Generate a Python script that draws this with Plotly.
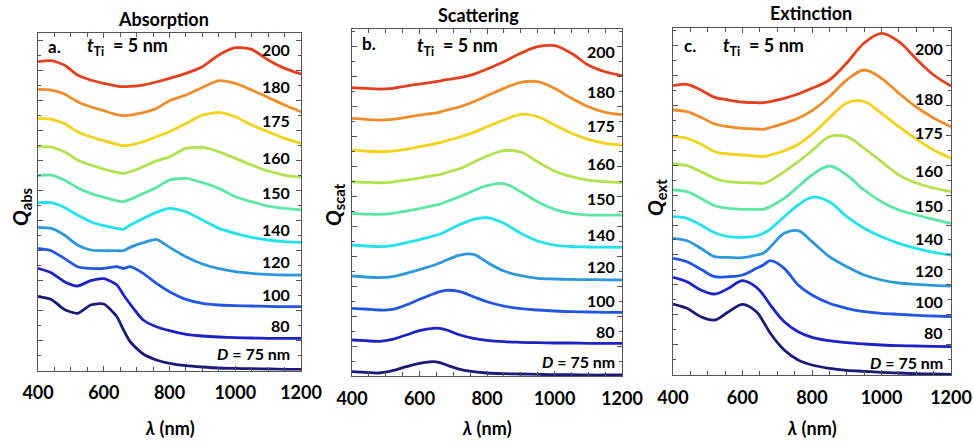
import plotly.graph_objects as go

# Wavelength grid (nm) shared by all spectra
WL = [400, 440, 480, 520, 560, 600, 640, 660, 680, 720, 760, 800, 850, 900, 950, 1000, 1050, 1100, 1150, 1200]

# Particle diameters D (nm), bottom to top
DIAMETERS = [75, 80, 100, 120, 140, 150, 160, 175, 180, 200]
LINE_COLORS = ["#1c1a78", "#1d22c4", "#2256e4", "#2d98dc", "#22e2ee",
               "#5ee6a4", "#b2e24c", "#f3d21a", "#f08c2a", "#e4401e"]

# Absorption efficiency, vertically offset per diameter (a.u.)
ABS_75 = [74, 71.3, 61.3, 57.3, 65.7, 66.7, 54, 40.7, 29, 16.7, 10.7, 7.3, 5, 3.7, 2.7, 2.3, 2, 1.7, 1.3, 1.3]
ABS_80 = [102.3, 98, 89, 84.7, 90, 92, 85.7, 75.7, 66.7, 50.7, 44, 40, 36.3, 34.7, 33.7, 33, 32.7, 32.3, 32.3, 32.3]
ABS_100 = [122.3, 120, 112.3, 104, 102.3, 102.3, 104, 102.3, 104, 97.3, 87.3, 79, 71.3, 67.3, 65.7, 65, 64.7, 64.3, 64, 64]
ABS_120 = [143.3, 142.3, 135.7, 125.7, 120.7, 120, 120, 120, 123.3, 128, 131.3, 123.3, 114, 106.7, 102, 99, 97.3, 96.3, 95.7, 95.7]
ABS_140 = [168, 168, 163.3, 155.7, 149, 145, 142.3, 141.3, 145.7, 152.3, 158.3, 162.3, 159, 150.7, 142.3, 137.3, 133.3, 130.7, 129, 128.3]
ABS_150 = [195, 195.7, 190.7, 183, 177.3, 173.3, 170, 169, 171.3, 177.3, 183.3, 190.7, 192.3, 188, 182.3, 174, 169, 164.7, 162.3, 160.7]
ABS_160 = [224, 223.7, 219, 210.7, 205.7, 201.7, 198.3, 197.3, 199, 204, 209.7, 214, 222.3, 223.3, 219, 212.3, 205.7, 199.7, 195.7, 193.3]
ABS_175 = [252.3, 251.3, 247.3, 239, 234, 230, 226.3, 225, 225.7, 229, 234, 239, 247.3, 255.7, 258.3, 254, 245.7, 239, 232.3, 227.3]
ABS_180 = [281.3, 280.7, 276.7, 269, 264, 260, 256, 255, 255.7, 258, 262.3, 270, 275.7, 283.3, 290, 287.3, 280.7, 273.3, 265.7, 259]
ABS_200 = [309, 310, 305.7, 295.7, 290.7, 287.3, 284.7, 284, 284.3, 285.7, 288.7, 292.3, 297.3, 304, 315.7, 323, 321.3, 310.7, 302.3, 296.7]

# Scattering efficiency, vertically offset per diameter (a.u.)
SCAT_75 = [4.3, 3.7, 3, 5.3, 9.3, 12.7, 14.3, 13.3, 11, 6.7, 4.3, 3, 2.3, 2, 1.7, 1.3, 1.3, 1, 1, 1]
SCAT_80 = [36, 35.3, 34.7, 36.7, 41, 45.3, 47.7, 47.7, 46, 41, 37.7, 35.7, 34.3, 33.7, 33.3, 33, 33, 32.7, 32.7, 32.7]
SCAT_100 = [67.7, 67, 66, 66.7, 71, 76.7, 82, 84.3, 85.7, 84.3, 79.3, 74.3, 70, 67.3, 66, 65, 64.3, 64, 63.7, 63.7]
SCAT_120 = [100, 99, 98.3, 99.3, 102.7, 106.5, 110.5, 113, 116, 121, 121.7, 113.7, 105, 100.3, 97.7, 97, 96.6, 96.4, 96.2, 96]
SCAT_140 = [131, 130, 129.3, 130.3, 133.3, 136.5, 140, 141.8, 145, 151.5, 156.7, 158.3, 152.7, 142.7, 135, 131, 129.5, 129, 128.8, 128.7]
SCAT_150 = [162.7, 162, 161.7, 162.7, 165, 167.5, 170.5, 171.8, 174.5, 179.5, 185.3, 190.3, 192.5, 184.3, 174.3, 166.7, 162.7, 161, 161, 161]
SCAT_160 = [194.3, 193.7, 193.3, 194, 196, 198, 200.5, 201.5, 203.5, 207.5, 213.7, 220, 225.5, 224, 214.3, 205, 199.5, 196, 194.3, 193.5]
SCAT_175 = [226, 225, 224.3, 225, 226.7, 229.3, 232, 233.3, 235.3, 239, 243.7, 249.3, 256, 261.7, 259.3, 251, 242.7, 236.7, 232.7, 231]
SCAT_180 = [257.7, 256.7, 256, 256.7, 258.7, 261, 262.7, 264, 266, 269.3, 274.3, 280.3, 287.7, 293.7, 294.3, 287.7, 277.7, 269.3, 263.7, 261.5]
SCAT_200 = [288.3, 287.7, 287, 287.7, 290, 292, 294, 295, 296.5, 298.3, 301.7, 307, 314.3, 322.7, 329.3, 330.3, 322.7, 311, 304.3, 300.5]

# Extinction efficiency, vertically offset per diameter (a.u.)
EXT_75 = [71, 66.7, 58.3, 55, 63.3, 70.7, 63.3, 53.3, 41.7, 25, 15, 10, 6.7, 4.7, 3.7, 2.7, 2, 1.3, 1, 0.7]
EXT_80 = [97.7, 93.3, 85, 81, 86.7, 94.3, 87.7, 80, 70, 53.3, 43.3, 37.7, 34.3, 32.3, 31, 30, 29.3, 29, 28.7, 28.3]
EXT_100 = [116.7, 113.3, 105.7, 98.3, 98.3, 100, 106.7, 110, 114.3, 106.7, 90, 80, 71.7, 66.7, 63.3, 61.7, 60.7, 59.7, 59, 58.3]
EXT_120 = [136.7, 134.3, 126.7, 118.3, 117.7, 117.3, 120, 121.7, 128, 141.7, 144.3, 133.3, 118.3, 108.3, 100, 95, 92, 90.7, 89.7, 89]
EXT_140 = [158.3, 156.7, 150, 142.3, 138.3, 137.7, 139, 141.7, 146, 158.3, 170, 177.7, 173.3, 158.3, 146.7, 138.3, 131.7, 126.7, 122.7, 120]
EXT_150 = [185, 183.3, 176.7, 169.3, 166.7, 165.7, 165.7, 165.7, 168.5, 176.7, 188.3, 200, 209, 200, 185, 173.3, 165, 160, 155.7, 151.7]
EXT_160 = [211, 209.3, 203.3, 196.7, 193.3, 192.3, 192, 191.7, 194.5, 203.3, 213.3, 224.3, 238.3, 238.3, 226.7, 213.3, 200, 192, 187, 183.3]
EXT_175 = [238.3, 236.7, 231, 223.3, 221, 220, 219, 218.3, 220, 224.3, 230.5, 241, 257, 272, 273.5, 261.7, 248.3, 236, 225, 216.7]
EXT_180 = [265, 263.3, 257.7, 251, 248.3, 246.7, 246, 245.7, 247.5, 251.7, 256.7, 264.3, 278.3, 295, 305, 296.7, 281.7, 268, 257, 248.3]
EXT_200 = [289.3, 290.7, 285, 277.7, 275, 273, 272.3, 272.3, 273.5, 276.7, 281, 286.7, 295, 312, 332, 341.7, 333.3, 316, 300, 289]

# Diameter label heights in each panel (same offset units as the curves)
ABS_LABEL_Y = [17.7, 45.7, 76.7, 109.7, 141.7, 178.7, 213.7, 250.7, 284.7, 321.7]
SCAT_LABEL_Y = [14.3, 45, 76, 109.3, 141.7, 177.7, 212.7, 251, 284.3, 324.3]
EXT_LABEL_Y = [12.3, 42.7, 73.3, 104.3, 136.7, 170, 205, 242.3, 276.7, 326.7]

X_TICKS = [400, 600, 800, 1000, 1200]

FONT = "Lato"
AXIS_GREY = "#555555"

panels = [
    dict(title="Absorption", letter="a.", qsub="abs", smooth=0.6,
         rows=[ABS_75, ABS_80, ABS_100, ABS_120, ABS_140, ABS_150, ABS_160, ABS_175, ABS_180, ABS_200],
         label_y=ABS_LABEL_Y, label_x=1172, xdom=[0.0391, 0.3094], ydom=[0.1632, 0.9248], ymax=337.4,
         title_xy=(163, 19), letter_xy=(54, 46), t_xy=(127, 46), q_xy=(21, 207)),
    dict(title="Scattering", letter="b.", qsub="scat", smooth=1.0,
         rows=[SCAT_75, SCAT_80, SCAT_100, SCAT_120, SCAT_140, SCAT_150, SCAT_160, SCAT_175, SCAT_180, SCAT_200],
         label_y=SCAT_LABEL_Y, label_x=1186, xdom=[0.3618, 0.6393], ydom=[0.1512, 0.9338], ymax=346.7,
         title_xy=(478, 15), letter_xy=(369, 44), t_xy=(457, 46), q_xy=(334, 205)),
    dict(title="Extinction", letter="c.", qsub="ext", smooth=1.0,
         rows=[EXT_75, EXT_80, EXT_100, EXT_120, EXT_140, EXT_150, EXT_160, EXT_175, EXT_180, EXT_200],
         label_y=EXT_LABEL_Y, label_x=1182, xdom=[0.6917, 0.9774], ydom=[0.1535, 0.9361], ymax=346.7,
         title_xy=(811, 13), letter_xy=(690, 45), t_xy=(763, 46), q_xy=(656, 198)),
]

W, H = 973, 443

fig = go.Figure()
annotations = []
layout_axes = {}


def px(x, y):
    return x / W, 1 - y / H


def paper_text(x, y, text, size, angle=0):
    fx, fy = px(x, y)
    return dict(x=fx, y=fy, xref="paper", yref="paper", text=text, textangle=angle,
                showarrow=False, xanchor="center", yanchor="middle",
                font=dict(family=FONT, size=size, color="black"))


for i, p in enumerate(panels, start=1):
    xa = "x" if i == 1 else f"x{i}"
    ya = "y" if i == 1 else f"y{i}"
    for d, color, vals in zip(DIAMETERS, LINE_COLORS, p["rows"]):
        fig.add_trace(go.Scatter(
            x=WL, y=vals, xaxis=xa, yaxis=ya, mode="lines",
            line=dict(color=color, width=2.8, shape="spline", smoothing=p["smooth"]),
            showlegend=False, hoverinfo="skip"))
    for j, (d, ly) in enumerate(zip(DIAMETERS, p["label_y"])):
        txt = "<b><i>D</i> = 75 nm</b>" if j == 0 else f"<b>{d}</b>"
        annotations.append(dict(x=p["label_x"], y=ly, xref=xa, yref=ya, text=txt,
                                showarrow=False, xanchor="right", yanchor="middle",
                                font=dict(family=FONT, size=16, color="black")))

    axis_common = dict(showline=True, linecolor=AXIS_GREY, linewidth=1.3, mirror="ticks",
                       ticks="inside", tickcolor=AXIS_GREY, showgrid=False, zeroline=False,
                       automargin=False)
    layout_axes["xaxis" if i == 1 else f"xaxis{i}"] = dict(
        domain=p["xdom"], anchor=ya, range=[400, 1200], tickvals=X_TICKS, ticklen=5,
        minor=dict(ticks="inside", dtick=50, tick0=400, ticklen=4, tickcolor=AXIS_GREY),
        tickfont=dict(family=FONT, size=18, color="black", weight="bold"),
        ticklabelstandoff=6, **axis_common)
    layout_axes["yaxis" if i == 1 else f"yaxis{i}"] = dict(
        domain=p["ydom"], anchor=xa, range=[0, p["ymax"]], dtick=30, tick0=0, ticklen=5,
        minor=dict(ticks="inside", dtick=15, tick0=0, ticklen=3, tickcolor=AXIS_GREY),
        showticklabels=False, **axis_common)

    annotations.append(paper_text(*p["title_xy"], f"<b>{p['title']}</b>", 18))
    annotations.append(paper_text(*p["letter_xy"], f"<b>{p['letter']}</b>", 17))
    annotations.append(paper_text(*p["t_xy"], "<b><i>t</i><sub>Ti</sub>  = 5 nm</b>", 18))
    annotations.append(paper_text(*p["q_xy"], f"<b><i>Q</i><sub>{p['qsub']}</sub></b>", 21, angle=-90))
    cx = (p["xdom"][0] + p["xdom"][1]) / 2 * W
    annotations.append(paper_text(cx, 428, "<b><i>λ</i> (nm)</b>", 18))

fig.update_layout(width=W, height=H, margin=dict(l=0, r=0, t=0, b=0),
                  paper_bgcolor="white", plot_bgcolor="white",
                  annotations=annotations, **layout_axes)

fig.write_html("out.html")
